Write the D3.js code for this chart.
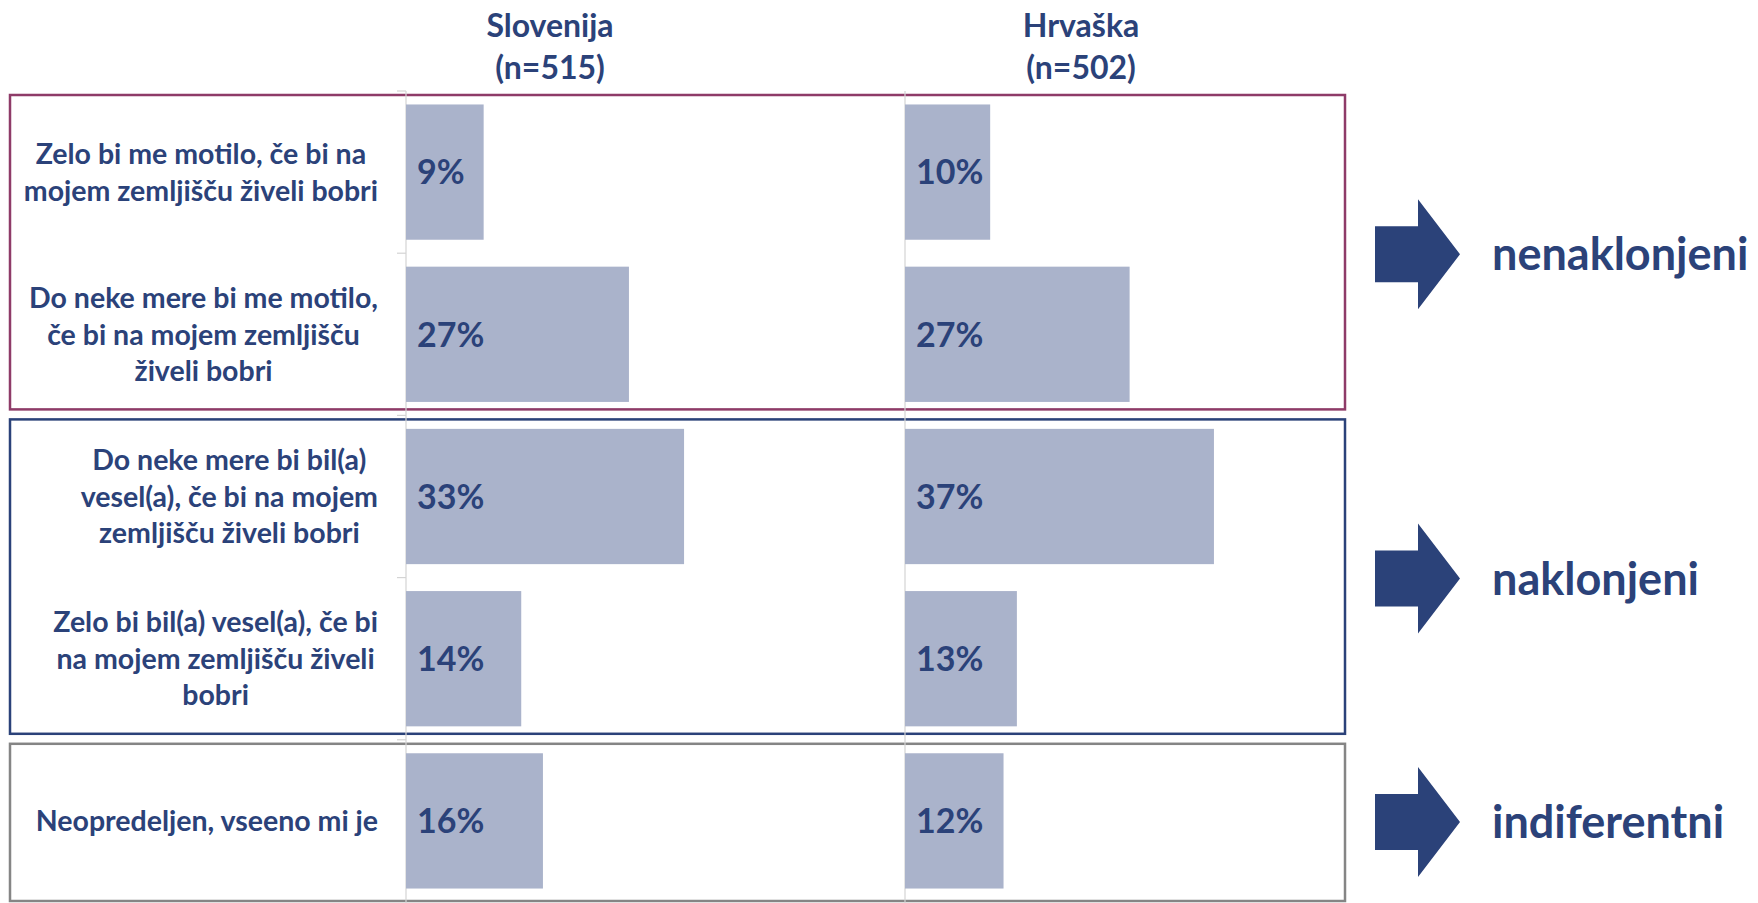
<!DOCTYPE html>
<html><head><meta charset="utf-8">
<script src="https://cdn.jsdelivr.net/npm/d3@7"></script>
<style>
body{margin:0;background:#fff}
svg{display:block}
text{font-family:Lato,"Open Sans",sans-serif;font-weight:700}
</style>
</head><body>
<svg id="chart" width="1758" height="903"></svg>
<script>
// ---- data ----
const categories = [
  ["Zelo bi me motilo, če bi na", "mojem zemljišču živeli bobri"],
  ["Do neke mere bi me motilo,", "če bi na mojem zemljišču", "živeli bobri"],
  ["Do neke mere bi bil(a)", "vesel(a), če bi na mojem", "zemljišču živeli bobri"],
  ["Zelo bi bil(a) vesel(a), če bi", "na mojem zemljišču živeli", "bobri"],
  ["Neopredeljen, vseeno mi je"]
];
const countries = ["Slovenija", "Hrvaška"];
const sampleSizes = ["(n=515)", "(n=502)"];
const valuesSlovenija = [9.3, 26.7, 33.3, 13.8, 16.4];
const valuesHrvaska = [10.2, 26.9, 37.0, 13.4, 11.8];
const groupNames = ["nenaklonjeni", "naklonjeni", "indiferentni"];
const groupFirst = [0, 2, 4];
const groupLast = [1, 3, 4];

// ---- styles ----
const navy = "#2b4279";
const barFill = "#aab3cb";
const axisGray = "#d4d4d4";
const boxColors = ["#8e3b68", "#2b4279", "#858585"];

const svg = d3.select("#chart");
const W = 1758, H = 903;

const y = d3.scaleBand().domain(d3.range(categories.length))
  .range([91, 902]).paddingInner(0.166).paddingOuter(0.083);
const x = d3.scaleLinear().domain([0, 60]).range([0, 501]);
const panelX = [406, 905];
const titleX = [550, 1081];
const series = [valuesSlovenija, valuesHrvaska];

const step = y.step();
const bandTop = i => y(i) - step * y.paddingInner() / 2;
const bandBot = i => y(i) + y.bandwidth() + step * y.paddingInner() / 2;

// ---- group boxes ----
groupNames.forEach((g, gi) => {
  const top = Math.max(bandTop(groupFirst[gi]), 91) + 4;
  let bot = Math.min(bandBot(groupLast[gi]), 908) - 6;
  if (gi === groupNames.length - 1) bot = 901;
  svg.append("rect")
    .attr("x", 10).attr("y", top)
    .attr("width", 1335).attr("height", bot - top)
    .attr("fill", "none").attr("stroke", boxColors[gi]).attr("stroke-width", 2.5);
});

// ---- axes ----
panelX.forEach((px, pi) => {
  svg.append("line").attr("x1", px).attr("x2", px).attr("y1", 91).attr("y2", H)
    .attr("stroke", axisGray).attr("stroke-width", 1.2);
  if (pi === 0) {
    const bounds = [91].concat(d3.range(categories.length).map(i => Math.min(bandBot(i), 902)));
    svg.selectAll(null).data(bounds.slice(0, -1)).enter().append("line")
      .attr("x1", px - 9).attr("x2", px).attr("y1", d => d).attr("y2", d => d)
      .attr("stroke", axisGray).attr("stroke-width", 1.2);
  }
});

// ---- bars ----
series.forEach((vals, si) => {
  const g = svg.append("g").attr("transform", `translate(${panelX[si]},0)`);
  g.selectAll("rect").data(vals).enter().append("rect")
    .attr("x", 0).attr("y", (d, i) => y(i))
    .attr("width", d => x(d)).attr("height", y.bandwidth())
    .attr("fill", barFill);
  g.selectAll("text").data(vals).enter().append("text")
    .attr("x", 11).attr("y", (d, i) => y(i) + y.bandwidth() / 2)
    .attr("dy", "0.36em")
    .attr("font-size", 34).attr("fill", navy)
    .text(d => Math.round(d) + "%");
});

// ---- titles ----
countries.forEach((c, ci) => {
  const t = svg.append("text").attr("text-anchor", "middle")
    .attr("font-size", 32).attr("fill", navy);
  t.append("tspan").attr("x", titleX[ci]).attr("y", 37).text(c);
  t.append("tspan").attr("x", titleX[ci]).attr("y", 79).text(sampleSizes[ci]);
});

// ---- category labels ----
const lineH = 36.5;
categories.forEach((lines, i) => {
  const cy = y(i) + y.bandwidth() / 2;
  const t = svg.append("text").attr("font-size", 28.5).attr("fill", navy)
    .attr("text-anchor", "middle");
  const spans = lines.map((ln, li) =>
    t.append("tspan").attr("y", cy + (li - (lines.length - 1) / 2) * lineH)
      .attr("dy", "0.36em").text(ln));
  let maxW = 0;
  spans.forEach(s => { maxW = Math.max(maxW, s.node().getComputedTextLength()); });
  const cx = 378 - maxW / 2;
  spans.forEach(s => s.attr("x", cx));
});

// ---- arrows and group names ----
groupNames.forEach((g, gi) => {
  const cy = (bandTop(groupFirst[gi]) + Math.min(bandBot(groupLast[gi]), 902)) / 2 + 1;
  const x0 = 1375, xh = 1418, xt = 1460, sh = 28, hh = 55;
  const pts = [[x0, cy - sh], [xh, cy - sh], [xh, cy - hh], [xt, cy], [xh, cy + hh], [xh, cy + sh], [x0, cy + sh]];
  svg.append("path").attr("d", d3.line()(pts) + "Z").attr("fill", navy);
  svg.append("text").attr("x", 1492).attr("y", cy).attr("dy", "0.36em")
    .attr("font-size", 45).attr("fill", navy).text(g);
});
</script>
</body></html>
